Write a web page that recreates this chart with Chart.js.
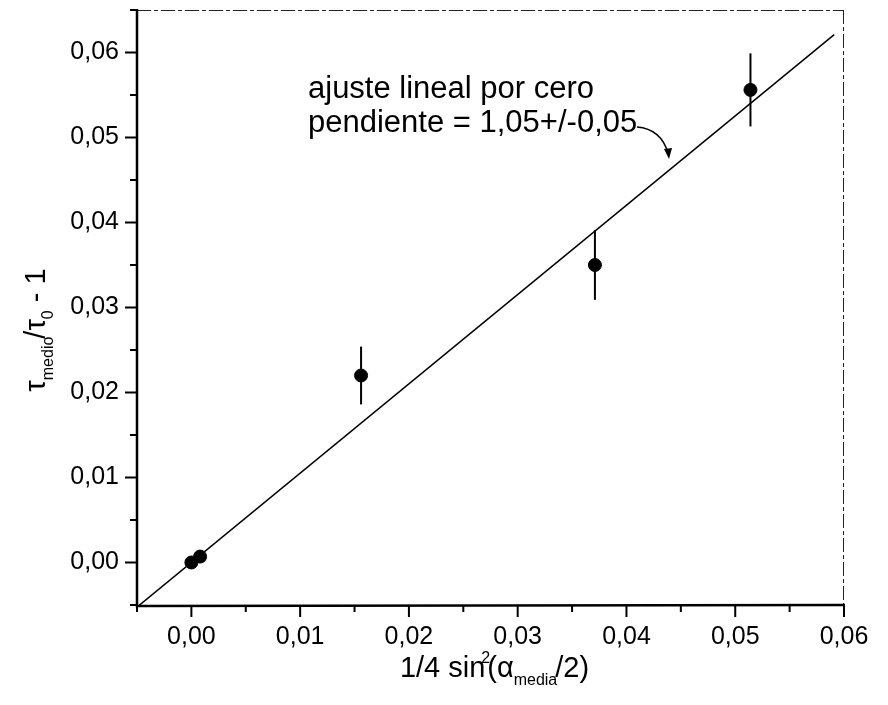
<!DOCTYPE html>
<html><head><meta charset="utf-8">
<script src="https://cdn.jsdelivr.net/npm/chart.js@4.4.1/dist/chart.umd.min.js"></script>
<style>html,body{margin:0;padding:0;background:#fff}canvas{display:block}</style>
</head><body>
<canvas id="c" width="888" height="705"></canvas>
<script>
// ---- data ----
const xValues = [0.0000, 0.0008, 0.0156, 0.0371, 0.0514];
const yValues = [0.0000, 0.0007, 0.0220, 0.0350, 0.0556];
const yErrors = [0.0000, 0.0000, 0.0034, 0.0041, 0.0043];
const fitX = [-0.005, 0.0591];
const fitY = [-0.00525, 0.0621];
const xTickValues = [0.00, 0.01, 0.02, 0.03, 0.04, 0.05, 0.06];
const xTickLabels = ['0,00', '0,01', '0,02', '0,03', '0,04', '0,05', '0,06'];
const yTickValues = [0.00, 0.01, 0.02, 0.03, 0.04, 0.05, 0.06];
const yTickLabels = ['0,00', '0,01', '0,02', '0,03', '0,04', '0,05', '0,06'];
const xMinorTicks = [-0.005, 0.005, 0.015, 0.025, 0.035, 0.045, 0.055];
const yMinorTicks = [-0.005, 0.005, 0.015, 0.025, 0.035, 0.045, 0.055, 0.065];
const annotationLines = ['ajuste lineal por cero', 'pendiente = 1,05+/-0,05'];

const FONT = "'Liberation Sans', Arial, Helvetica, sans-serif";

function drawRich(ctx, parts, x, y, align) {
  let total = 0;
  parts.forEach(p => { ctx.font = p.s + 'px ' + FONT; p.w = ctx.measureText(p.t).width; total += p.w + (p.dx || 0); });
  let cx = align === 'center' ? x - total / 2 : x;
  ctx.textAlign = 'left';
  ctx.textBaseline = 'alphabetic';
  parts.forEach(p => {
    cx += (p.dx || 0);
    ctx.font = p.s + 'px ' + FONT;
    ctx.fillText(p.t, cx, y + (p.dy || 0));
    cx += p.w;
  });
}

const framePlugin = {
  id: 'frame',
  beforeDatasetsDraw(chart) {
    const ctx = chart.ctx, xs = chart.scales.x, ys = chart.scales.y;
    ctx.save();
    ctx.strokeStyle = '#000';
    ctx.lineWidth = 2;
    xValues.forEach((xv, i) => {
      if (!yErrors[i]) return;
      const px = xs.getPixelForValue(xv);
      ctx.beginPath();
      ctx.moveTo(px, ys.getPixelForValue(yValues[i] - yErrors[i]));
      ctx.lineTo(px, ys.getPixelForValue(yValues[i] + yErrors[i]));
      ctx.stroke();
    });
    ctx.restore();
  },
  afterDraw(chart) {
    const ctx = chart.ctx, a = chart.chartArea, xs = chart.scales.x, ys = chart.scales.y;
    ctx.save();
    // top and right border (thin, broken)
    ctx.strokeStyle = '#222';
    ctx.lineWidth = 1;
    ctx.setLineDash([14, 3, 4, 3]);
    ctx.beginPath();
    ctx.moveTo(a.left, a.top + 0.5); ctx.lineTo(a.right, a.top + 0.5);
    ctx.moveTo(a.right - 0.5, a.top); ctx.lineTo(a.right - 0.5, a.bottom);
    ctx.stroke();
    ctx.setLineDash([]);
    // left and bottom axes
    ctx.strokeStyle = '#000';
    ctx.lineWidth = 2.5;
    ctx.beginPath();
    ctx.moveTo(a.left, a.top - 1); ctx.lineTo(a.left, a.bottom + 1);
    ctx.lineTo(a.right + 1, a.bottom);
    ctx.stroke();
    // ticks
    ctx.lineWidth = 2;
    ctx.beginPath();
    xTickValues.forEach(v => { const p = xs.getPixelForValue(v); ctx.moveTo(p, a.bottom); ctx.lineTo(p, a.bottom + 12); });
    xMinorTicks.forEach(v => { const p = xs.getPixelForValue(v); ctx.moveTo(p, a.bottom); ctx.lineTo(p, a.bottom + 7); });
    yTickValues.forEach(v => { const p = ys.getPixelForValue(v); ctx.moveTo(a.left, p); ctx.lineTo(a.left - 12, p); });
    yMinorTicks.forEach(v => { const p = ys.getPixelForValue(v); ctx.moveTo(a.left, p); ctx.lineTo(a.left - 7, p); });
    ctx.stroke();

    ctx.fillStyle = '#000';
    // x axis title
    drawRich(ctx, [
      {t: '1/4 sin', s: 29},
      {t: '2', s: 16, dy: -14, dx: -4},
      {t: '(', s: 29, dx: -3},
      {t: 'α', s: 29},
      {t: 'media', s: 16, dy: 8},
      {t: '/2)', s: 29, dx: -2}
    ], (a.left + a.right) / 2 + 4, 677, 'center');
    // y axis title (rotated)
    ctx.save();
    ctx.translate(45, 330);
    ctx.rotate(-Math.PI / 2);
    drawRich(ctx, [
      {t: 'τ', s: 29},
      {t: 'medio', s: 16, dy: 8},
      {t: '/', s: 29, dx: -2},
      {t: 'τ', s: 29},
      {t: '0', s: 16, dy: 8},
      {t: ' - 1', s: 29}
    ], 0, 0, 'center');
    ctx.restore();

    // annotation
    ctx.font = '31px ' + FONT;
    ctx.textAlign = 'left';
    ctx.textBaseline = 'alphabetic';
    ctx.fillText(annotationLines[0], a.left + 171, 98);
    ctx.fillText(annotationLines[1], a.left + 171, 132);
    // curved arrow
    ctx.lineWidth = 1.5;
    ctx.beginPath();
    ctx.moveTo(a.left + 500, 127);
    ctx.quadraticCurveTo(a.left + 524, 129, a.left + 531, 153);
    ctx.stroke();
    ctx.beginPath();
    ctx.moveTo(a.left + 532, 159);
    ctx.lineTo(a.left + 527, 149);
    ctx.lineTo(a.left + 535, 148);
    ctx.closePath();
    ctx.fill();
    ctx.restore();
  }
};

const tickFont = {family: FONT, size: 25};

new Chart(document.getElementById('c'), {
  data: {
    datasets: [
      {
        type: 'scatter',
        data: xValues.map((x, i) => ({x, y: yValues[i]})),
        backgroundColor: '#000',
        borderColor: '#000',
        pointRadius: 6.5,
        pointHoverRadius: 6.5,
        order: 1
      },
      {
        type: 'line',
        data: fitX.map((x, i) => ({x, y: fitY[i]})),
        borderColor: '#000',
        borderWidth: 1.5,
        pointRadius: 0,
        fill: false,
        tension: 0,
        order: 2
      }
    ]
  },
  options: {
    responsive: false,
    animation: false,
    devicePixelRatio: 1,
    layout: {padding: {top: 10, right: 44, left: 0, bottom: 0}},
    plugins: {legend: {display: false}, tooltip: {enabled: false}},
    scales: {
      x: {
        type: 'linear',
        min: -0.005, max: 0.06,
        afterBuildTicks: s => { s.ticks = xTickValues.map(v => ({value: v})); },
        afterFit: s => { s.height = 100; s.paddingLeft = 0; s.paddingRight = 0; },
        ticks: {
          callback: v => xTickLabels[xTickValues.indexOf(v)],
          font: tickFont, color: '#000', padding: 17, maxRotation: 0, autoSkip: false
        },
        grid: {display: false, drawTicks: false},
        border: {display: false}
      },
      y: {
        type: 'linear',
        min: -0.005, max: 0.065,
        afterBuildTicks: s => { s.ticks = yTickValues.map(v => ({value: v})); },
        afterFit: s => { s.width = 137; s.paddingTop = 0; s.paddingBottom = 0; },
        ticks: {
          callback: v => yTickLabels[yTickValues.indexOf(v)],
          font: tickFont, color: '#000', padding: 18, autoSkip: false
        },
        grid: {display: false, drawTicks: false},
        border: {display: false}
      }
    }
  },
  plugins: [framePlugin]
});
</script>
</body></html>
